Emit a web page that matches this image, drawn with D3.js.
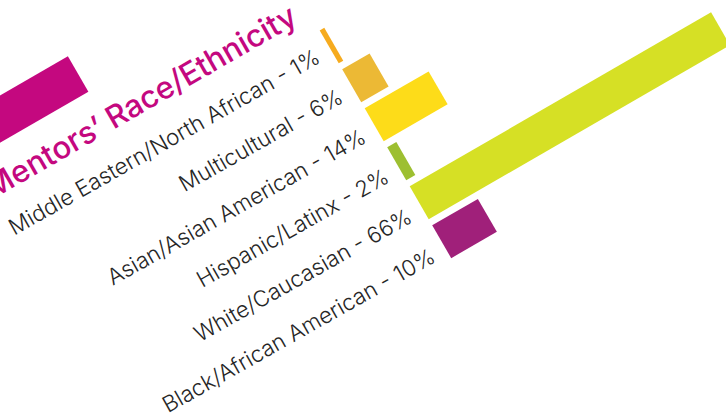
<!DOCTYPE html>
<html>
<head>
<meta charset="utf-8">
<script src="https://cdn.jsdelivr.net/npm/d3@7"></script>
<style>
  body { margin: 0; background: #fff; }
  svg { display: block; }
  .label { font-family: Inter, sans-serif; font-weight: 300; fill: #262626; }
  .title { font-family: Inter, sans-serif; font-weight: 500; fill: #c4087f; }
</style>
</head>
<body>
<svg width="726" height="417"></svg>
<script>
    // data
    var categories = ["Middle Eastern/North African", "Multicultural", "Asian/Asian American",
                      "Hispanic/Latinx", "White/Caucasian", "Black/African American"];
    var shares = [1, 6, 14, 2, 66, 10];
    var colours = ["#f6ab1e", "#ecb935", "#fddc19", "#9dbf31", "#d6e025", "#a0207a"];
    var titleText = "Mentors\u2019 Race/Ethnicity";

    var svg = d3.select("svg");

    // whole chart is tilted by -30 degrees
    var g = svg.append("g")
        .attr("transform", "translate(319.7,30.4) rotate(-30)");

    var x = d3.scaleLinear()
        .domain([0, 66])
        .range([0, 348]);

    // bars sit in bands, the label lines are spaced a touch wider
    var y = d3.scaleBand()
        .domain(categories)
        .range([0, 263])
        .paddingInner(7 / 45);

    var yLabel = d3.scalePoint()
        .domain(categories)
        .range([28.2, 258.5]);

    var rows = categories.map(function(c, i) {
        return { name: c, value: shares[i], colour: colours[i] };
    });

    // bars
    g.selectAll("rect.bar")
        .data(rows)
        .enter().append("rect")
            .attr("class", "bar")
            .attr("x", 0)
            .attr("y", function(d) { return y(d.name); })
            .attr("width", function(d) { return x(d.value); })
            .attr("height", y.bandwidth())
            .attr("fill", function(d) { return d.colour; });

    // labels, right aligned against the bars
    var labelEnd = -14;
    g.selectAll("text.label")
        .data(rows)
        .enter().append("text")
            .attr("class", "label")
            .attr("x", labelEnd)
            .attr("y", function(d) { return yLabel(d.name); })
            .attr("transform", function(d) { return "rotate(0.5," + labelEnd + "," + yLabel(d.name) + ")"; })
            .attr("text-anchor", "end")
            .style("font-size", "22.3px")
            .text(function(d) { return d.name + " - " + d.value + "%"; });

    // title and the magenta block above it
    g.append("rect")
        .attr("x", -700)
        .attr("y", -103.5)
        .attr("width", 700 - 231)
        .attr("height", 41)
        .attr("fill", "#c4087f");

    g.append("text")
        .attr("class", "title")
        .attr("x", -14)
        .attr("y", -17)
        .attr("text-anchor", "end")
        .style("font-size", "31px")
        .text(titleText);
</script>
</body>
</html>
